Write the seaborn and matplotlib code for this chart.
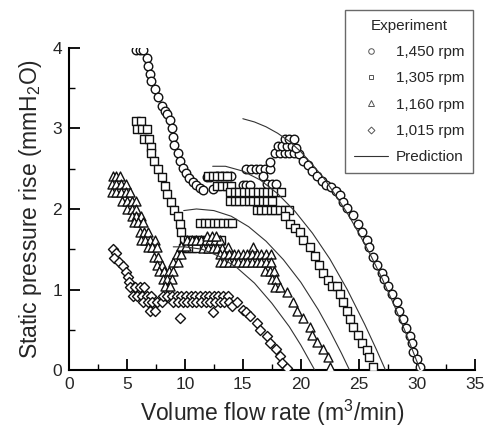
import matplotlib
matplotlib.use("Agg")
import matplotlib.pyplot as plt
from matplotlib.lines import Line2D
from matplotlib.ticker import MultipleLocator
import seaborn as sns
import pandas as pd

# ---------------- data ----------------
series_names = ["1,450 rpm", "1,305 rpm", "1,160 rpm", "1,015 rpm"]

q_1450 = [5.8, 6.1, 6.4, 6.7, 6.8, 7.0, 7.1, 7.4, 7.7, 8.0, 8.3, 8.5, 8.7, 8.9, 9.0, 9.1, 9.4, 9.6,
          9.8, 10.1, 10.4, 10.7, 11.0, 11.3,
          11.6, 11.9, 12.2, 12.4, 12.8, 13.2, 13.6, 14.0, 15.0, 15.3, 15.6, 15.3, 15.7, 16.1, 16.5,
          16.9, 17.3, 17.1, 17.5, 17.9, 16.7, 17.3, 17.8, 18.2, 18.6, 19.0, 19.4, 19.8, 18.0, 18.4,
          18.8, 19.2, 19.6, 18.6, 19.0, 19.4,
          20.2, 20.6, 21.0, 21.4, 21.8, 22.2, 22.6, 23.0, 23.4, 23.6, 24.0, 24.5, 24.9, 25.3, 25.7,
          25.9, 26.2, 26.6, 27.0, 27.2, 27.5, 27.9, 28.3, 28.5, 28.8, 29.1, 29.4, 29.6, 29.7, 30.0, 30.3]
p_1450 = [3.97, 3.97, 3.97, 3.87, 3.77, 3.68, 3.59, 3.49, 3.39, 3.28, 3.22, 3.18, 3.10, 3.00, 2.89, 2.79, 2.70, 2.60,
          2.51, 2.45, 2.39, 2.34, 2.30, 2.26,
          2.24, 2.40, 2.40, 2.25, 2.41, 2.41, 2.41, 2.41, 2.30, 2.30, 2.30, 2.49, 2.49, 2.49, 2.49,
          2.49, 2.49, 2.31, 2.31, 2.31, 2.41, 2.58, 2.70, 2.70, 2.70, 2.70, 2.70, 2.68, 2.78, 2.78,
          2.78, 2.78, 2.76, 2.87, 2.87, 2.87,
          2.60, 2.54, 2.47, 2.41, 2.35, 2.30, 2.27, 2.22, 2.17, 2.09, 2.01, 1.93, 1.81, 1.72, 1.62,
          1.53, 1.41, 1.31, 1.21, 1.13, 1.04, 0.94, 0.84, 0.73, 0.63, 0.52, 0.42, 0.34, 0.23, 0.14, 0.04]

q_1305 = [5.8, 6.2, 5.9, 6.3, 6.7, 6.5, 6.9, 7.1, 7.1, 7.3, 7.7, 8.0, 8.3, 8.5, 8.8, 9.1, 9.4, 9.6,
          9.7, 9.9, 9.8, 10.2, 10.6, 11.0,
          10.3, 10.7, 11.1, 11.5, 11.9, 12.3, 12.7, 13.1,
          11.3, 11.7, 12.1, 12.5, 12.9, 13.3, 13.7, 14.1,
          12.0, 12.4, 12.8, 13.2, 13.6,
          12.8, 13.2, 13.6, 14.0,
          13.9, 14.3, 14.7, 15.1, 15.5, 15.9, 16.3, 16.7, 17.1, 17.5, 17.9, 18.3,
          13.9, 14.3, 14.7, 15.1, 15.5, 15.9, 16.3, 16.7, 17.1, 17.5,
          16.2, 16.6, 17.0, 17.4, 17.8, 18.2, 18.6, 19.0,
          18.6, 19.1, 19.5, 19.9, 20.2, 20.8, 21.2, 21.6, 21.9, 22.3, 22.7, 23.1, 23.4, 23.6, 24.0,
          24.2, 24.5, 24.9, 25.3, 25.7, 25.9, 26.2]
p_1305 = [3.09, 3.09, 2.99, 2.99, 2.99, 2.87, 2.87, 2.77, 2.69, 2.60, 2.50, 2.40, 2.29, 2.19, 2.09, 1.99, 1.91, 1.81,
          1.71, 1.62, 1.52, 1.52, 1.52, 1.52,
          1.62, 1.62, 1.62, 1.62, 1.62, 1.62, 1.62, 1.62,
          1.82, 1.82, 1.82, 1.82, 1.82, 1.82, 1.82, 1.82,
          2.41, 2.41, 2.41, 2.41, 2.41,
          2.29, 2.29, 2.29, 2.29,
          2.21, 2.21, 2.21, 2.21, 2.21, 2.21, 2.21, 2.21, 2.21, 2.21, 2.21, 2.21,
          2.10, 2.10, 2.10, 2.10, 2.10, 2.10, 2.10, 2.10, 2.10, 2.10,
          1.99, 1.99, 1.99, 1.99, 1.99, 1.99, 1.99, 1.99,
          1.91, 1.81, 1.76, 1.72, 1.62, 1.53, 1.42, 1.31, 1.21, 1.12, 1.04, 1.04, 0.94, 0.84, 0.73,
          0.63, 0.54, 0.44, 0.34, 0.25, 0.16, 0.04]

q_1160 = [3.8, 4.1, 4.4,
          3.7, 4.1, 4.5, 4.9,
          3.7, 4.1, 4.5, 4.9, 5.3,
          4.6, 5.0, 5.4, 5.8,
          5.0, 5.4, 5.8,
          5.4, 5.8, 6.2,
          5.6, 6.0, 6.4,
          6.1, 6.5, 6.8,
          6.2, 6.6, 7.0, 7.4,
          6.8, 7.2, 7.6,
          7.3, 7.7,
          7.6, 8.0,
          7.8, 8.2, 8.6, 9.0,
          8.1, 8.5, 8.9,
          8.3, 8.7,
          9.0, 9.4, 9.3, 9.7, 9.7, 10.1,
          10.2, 10.6, 11.0, 11.4, 11.8, 12.2, 12.6, 13.0,
          11.9, 12.3, 12.7,
          11.6, 12.0, 12.4, 12.8, 13.2, 13.7, 15.9,
          13.0, 13.4, 13.8, 14.2, 14.6, 15.0, 15.4, 15.8, 16.2, 16.6, 17.0, 17.4,
          13.0, 13.4, 13.8, 14.2, 14.6, 15.0, 15.4, 15.8, 16.2, 16.6, 17.0, 17.4,
          16.9, 17.3, 17.7, 17.5, 17.9, 17.8, 18.2, 18.8, 19.3, 19.7, 20.2, 20.8, 21.0, 21.4, 21.9,
          22.3, 22.5]
p_1160 = [2.41, 2.41, 2.41,
          2.31, 2.31, 2.31, 2.31,
          2.21, 2.21, 2.21, 2.21, 2.21,
          2.10, 2.10, 2.10, 2.10,
          2.00, 2.00, 2.00,
          1.91, 1.91, 1.91,
          1.84, 1.84, 1.84,
          1.72, 1.72, 1.72,
          1.62, 1.62, 1.62, 1.62,
          1.53, 1.53, 1.53,
          1.41, 1.41,
          1.31, 1.31,
          1.23, 1.23, 1.23, 1.23,
          1.13, 1.13, 1.13,
          1.04, 1.04,
          1.34, 1.34, 1.44, 1.44, 1.54, 1.54,
          1.62, 1.62, 1.62, 1.62, 1.62, 1.62, 1.62, 1.62,
          1.67, 1.67, 1.67,
          1.52, 1.52, 1.52, 1.52, 1.52, 1.53, 1.53,
          1.44, 1.44, 1.44, 1.44, 1.44, 1.44, 1.44, 1.44, 1.44, 1.44, 1.44, 1.44,
          1.34, 1.34, 1.34, 1.34, 1.34, 1.34, 1.34, 1.34, 1.34, 1.34, 1.34, 1.34,
          1.23, 1.23, 1.23, 1.13, 1.13, 1.03, 1.03, 0.97, 0.84, 0.73, 0.65, 0.53, 0.44, 0.35, 0.26,
          0.16, 0.04]

q_1015 = [3.8, 4.1, 3.9, 4.3, 4.7, 4.9, 5.1, 5.2, 5.3, 5.7, 6.1, 6.5, 5.5, 5.9, 6.3, 6.7, 7.1,
          6.4, 6.8, 7.2, 7.6, 8.0, 7.0, 7.4,
          8.1, 8.5, 8.9, 9.3, 9.7, 10.1, 10.5, 10.9, 11.3, 11.7, 12.1, 12.5, 12.9, 13.3, 13.7,
          9.0, 9.4, 9.8, 10.2, 10.6, 11.0, 11.4, 11.8, 12.2, 12.6, 13.0, 13.4, 13.8,
          9.6, 12.4, 14.1, 14.5, 15.0, 15.3, 15.6, 16.2, 16.5, 17.1, 17.3, 17.9, 18.2, 18.4, 18.8]
p_1015 = [1.50, 1.45, 1.39, 1.34, 1.29, 1.22, 1.16, 1.09, 1.03, 1.03, 1.03, 1.03, 0.92, 0.92, 0.92, 0.92, 0.92,
          0.84, 0.84, 0.84, 0.84, 0.84, 0.73, 0.73,
          0.92, 0.92, 0.92, 0.92, 0.92, 0.92, 0.92, 0.92, 0.92, 0.92, 0.92, 0.92, 0.92, 0.92, 0.92,
          0.84, 0.84, 0.84, 0.84, 0.84, 0.84, 0.84, 0.84, 0.84, 0.84, 0.84, 0.84, 0.84,
          0.65, 0.72, 0.79, 0.84, 0.75, 0.72, 0.67, 0.59, 0.50, 0.42, 0.34, 0.26, 0.17, 0.09, 0.03]

# prediction curves
qp_1450 = [15.0, 16, 17, 18, 19, 20, 21, 22, 23, 24, 25, 26, 27, 28, 29, 30, 30.3]
pp_1450 = [3.12, 3.08, 3.02, 2.94, 2.84, 2.71, 2.55, 2.38, 2.17, 1.95, 1.70, 1.43, 1.14, 0.82, 0.48, 0.11, 0.0]
qp_1305 = [12.4, 13.5, 15, 16.5, 18, 19.5, 21, 22.5, 24, 25.5, 26.5, 27.3]
pp_1305 = [2.53, 2.53, 2.47, 2.36, 2.19, 1.97, 1.70, 1.38, 1.00, 0.57, 0.26, 0.0]
qp_1160 = [9.9, 11, 12.5, 14, 15.5, 17, 18.5, 20, 21.5, 22.5, 23.5, 24.2]
pp_1160 = [1.98, 2.0, 1.98, 1.91, 1.78, 1.60, 1.37, 1.09, 0.75, 0.49, 0.21, 0.0]
qp_1015 = [9.0, 10, 11.5, 13, 14.5, 16, 17.5, 19, 20, 21.2]
pp_1015 = [1.53, 1.53, 1.50, 1.41, 1.27, 1.08, 0.83, 0.54, 0.31, 0.0]

x_ticks = [0, 5, 10, 15, 20, 25, 30, 35]
y_ticks = [0, 1, 2, 3, 4]

# ---------------- style ----------------
sns.set_style("ticks")
plt.rcParams["font.family"] = ["Liberation Sans", "DejaVu Sans"]
plt.rcParams["mathtext.fontset"] = "custom"
plt.rcParams["mathtext.rm"] = "Liberation Sans"
plt.rcParams["mathtext.it"] = "Liberation Sans:italic"

fig = plt.figure(figsize=(4.85, 4.47), dpi=100)
ax = fig.add_axes([0.142, 0.172, 0.837, 0.721])

exp = [
    (q_1450, p_1450, "o", 38),
    (q_1305, p_1305, "s", 30),
    (q_1160, p_1160, "^", 42),
    (q_1015, p_1015, "D", 26),
]
for (q, p, m, s), name in zip(exp, series_names):
    df = pd.DataFrame({"q": q, "p": p})
    sns.scatterplot(data=df, x="q", y="p", marker=m, s=s, color="white",
                    edgecolor="#111111", linewidth=1.0, ax=ax, legend=False, zorder=3)

for qq, pp in [(qp_1450, pp_1450), (qp_1305, pp_1305), (qp_1160, pp_1160), (qp_1015, pp_1015)]:
    sns.lineplot(x=qq, y=pp, estimator=None, sort=False, color="#333333", linewidth=0.8,
                 ax=ax, legend=False, zorder=4)

ax.set_xlim(0, 35)
ax.set_ylim(0, 4)
ax.set_xticks(x_ticks)
ax.set_yticks(y_ticks)
ax.xaxis.set_minor_locator(MultipleLocator(2.5))
ax.yaxis.set_minor_locator(MultipleLocator(0.5))
ax.tick_params(which="major", direction="in", length=8, width=1.3, labelsize=12.5, pad=5, color="black")
ax.tick_params(which="minor", direction="in", length=4, width=1.0, color="black")
for side in ["top", "right"]:
    ax.spines[side].set_visible(False)
for side in ["left", "bottom"]:
    ax.spines[side].set_linewidth(1.5)
    ax.spines[side].set_color("black")

ax.set_xlabel("Volume flow rate (m$^3$/min)", fontsize=16.5, labelpad=4)
ax.set_ylabel("Static pressure rise (mmH$_2$O)", fontsize=16.5, labelpad=6)

handles = [
    Line2D([], [], linestyle="none", marker="o", markersize=4, markerfacecolor="white", markeredgecolor="#555", markeredgewidth=0.7),
    Line2D([], [], linestyle="none", marker="s", markersize=3.5, markerfacecolor="white", markeredgecolor="#555", markeredgewidth=0.7),
    Line2D([], [], linestyle="none", marker="^", markersize=4, markerfacecolor="white", markeredgecolor="#555", markeredgewidth=0.7),
    Line2D([], [], linestyle="none", marker="D", markersize=3.5, markerfacecolor="white", markeredgecolor="#555", markeredgewidth=0.7),
    Line2D([], [], color="#333333", linewidth=0.8),
]
labels = series_names + ["Prediction"]
leg = fig.legend(handles, labels, title="Experiment", loc="upper right",
                 bbox_to_anchor=(0.976, 0.978), fontsize=11, title_fontsize=11,
                 frameon=True, fancybox=False, edgecolor="#444", handlelength=2.2,
                 handletextpad=0.5, labelspacing=0.8, borderpad=0.6, borderaxespad=0)
leg.get_frame().set_linewidth(1.0)

fig.savefig("out.png", dpi=100)
